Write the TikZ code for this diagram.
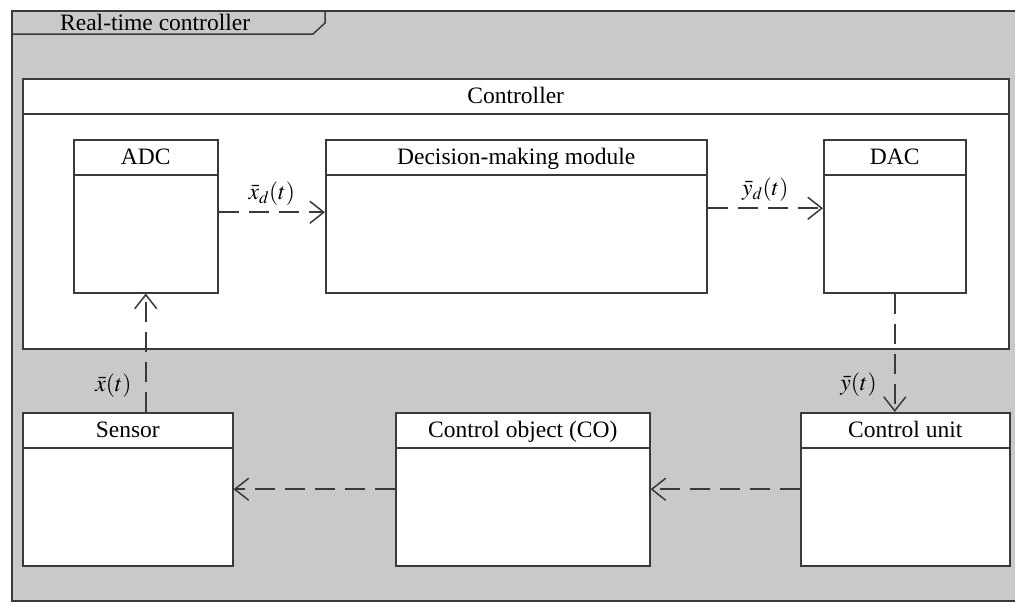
\documentclass[tikz,border=0pt]{standalone}
\usepackage{mathptmx}
\usepackage{fontspec}
\setmainfont{Liberation Serif}
\usetikzlibrary{arrows.meta,positioning}

\definecolor{framegray}{HTML}{C9C9C9}
\definecolor{linegray}{HTML}{3A3A3A}

\tikzset{
  body/.style={draw=linegray, fill=white, line width=1.5pt, rectangle,
    anchor=north west, inner sep=0pt, minimum height=153pt},
  titlebar/.style={draw=linegray, fill=white, line width=1.5pt, rectangle,
    anchor=north, inner sep=0pt, minimum height=35pt,
    text height=17.5pt, text depth=3.5pt,
    font=\fontsize{23.5}{28}\selectfont},
  flow/.style={draw=linegray, line width=1.6pt, dash pattern=on 20pt off 10pt,
    -{Straight Barb[length=14pt,width=22pt,line width=1.5pt]}},
  sig/.style={font=\fontsize{23.5}{28}\selectfont, text=black}
}

\begin{document}
\begin{tikzpicture}[x=1pt,y=-1pt]
    \useasboundingbox (0,0) rectangle (1015,606);
    \clip (0,0) rectangle (1015,606);

    % Outer frame with tab
    \draw[draw=linegray, fill=framegray, line width=1.5pt] (12,11) rectangle (1040,601);
    \draw[draw=linegray, fill=framegray, line width=1.5pt]
        (12,34) -- (12,11) -- (325,11) -- (325,23) -- (313,34) -- cycle;
    \node[sig, anchor=west, inner sep=0pt] (tab) at (60,22) {Real-time controller};

    % Controller
    \node[body, minimum width=986pt, minimum height=270pt] (ctrl) at (22,78) {};
    \node[titlebar, minimum width=986pt] (ctrl-t) at (ctrl.north) {Controller};

    % Inner modules
    \node[body, minimum width=144pt] (adc) at (73,139) {};
    \node[titlebar, minimum width=144pt] (adc-t) at (adc.north) {ADC};
    \node[body, minimum width=381pt] (dmm) at (325,139) {};
    \node[titlebar, minimum width=381pt] (dmm-t) at (dmm.north) {Decision-making module};
    \node[body, minimum width=142pt] (dac) at (823,139) {};
    \node[titlebar, minimum width=142pt] (dac-t) at (dac.north) {DAC};

    % Plant side
    \node[body, minimum width=210pt] (sensor) at (22,412) {};
    \node[titlebar, minimum width=210pt] (sensor-t) at (sensor.north) {Sensor};
    \node[body, minimum width=254pt] (co) at (395,412) {};
    \node[titlebar, minimum width=254pt] (co-t) at (co.north) {Control object (CO)};
    \node[body, minimum width=209pt] (cu) at (800,412) {};
    \node[titlebar, minimum width=209pt] (cu-t) at (cu.north) {Control unit};

    % Signals
    \draw[flow] ([yshift=4pt]adc.east) -- ([yshift=4pt]dmm.west)
        node[sig, midway, above=3pt] {$\bar{x}_d(t)$};
    \draw[flow] ([yshift=8pt]dmm.east) -- ([yshift=8pt]dac.west)
        node[sig, midway, above=3pt] {$\bar{y}_d(t)$};
    \draw[flow] (dac.south) -- (dac.south |- cu-t.north)
        node[sig, pos=0.77, left=14pt] {$\bar{y}(t)$};
    \draw[flow] (cu.west) -- (co.east);
    \draw[flow] (co.west) -- (sensor.east);
    \draw[flow] (adc.south |- sensor-t.north) -- (adc.south)
        node[sig, pos=0.22, left=10pt] {$\bar{x}(t)$};
\end{tikzpicture}
\end{document}
